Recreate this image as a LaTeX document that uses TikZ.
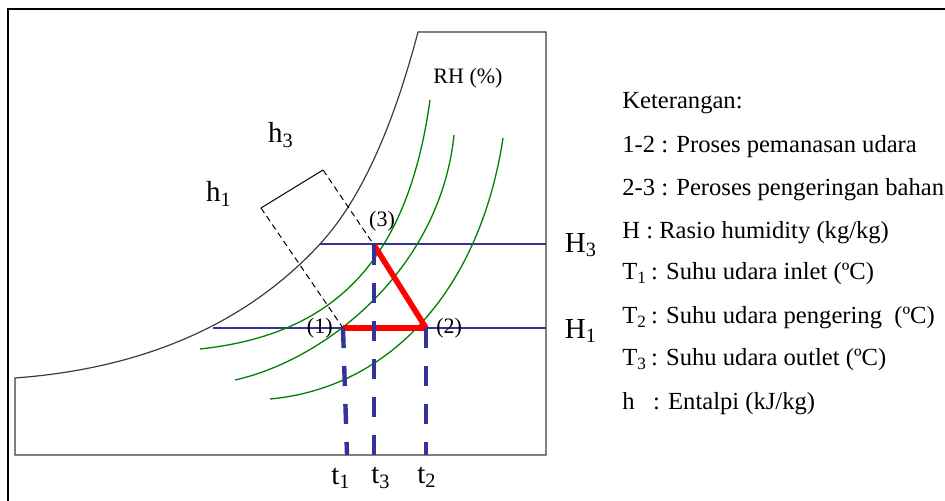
\documentclass[tikz,border=0pt]{standalone}
\usepackage{fontspec}
\setmainfont{Liberation Serif}
\usetikzlibrary{positioning}
\definecolor{chartgray}{RGB}{60,60,60}
\definecolor{hblue}{RGB}{51,51,153}
\definecolor{rhgreen}{RGB}{0,128,0}
\definecolor{procred}{RGB}{255,0,0}

\begin{document}
\begin{tikzpicture}[x=0.5pt, y=-0.5pt,
  lbl/.style={inner sep=0pt, font=\fontsize{14.5}{17}\selectfont},
  ptlbl/.style={inner sep=0pt, font=\fontsize{11}{13}\selectfont},
  legend/.style={anchor=west, inner sep=0pt, font=\fontsize{12.3}{15}\selectfont},
  frame/.style={black, line width=1.2pt},
  chart/.style={chartgray, line width=0.6pt},
  hline/.style={hblue, line width=0.8pt},
  tline/.style={hblue, line width=2.2pt, dash pattern=on 10pt off 9pt},
  rhcurve/.style={rhgreen, line width=0.65pt},
  process/.style={procred, line width=2.8pt},
  enth/.style={black, line width=0.5pt}
]
\useasboundingbox (0,0) rectangle (945,501);
\clip (0,0) rectangle (945,501);
% outer frame (cut by the page)
\draw[frame] (8,560) |- (1000,9);
% chart outline with saturation curve
\draw[chart] (15,455) -- (15,378) .. controls (150,368) and (250,320) .. (320,244)
  .. controls (370,190) and (400,100) .. (418,32) -- (546,32) -- (546,455) -- cycle;
% state points
\coordinate (p1) at (343,328);
\coordinate (p2) at (426,328);
\coordinate (p3) at (374,245);
\coordinate (H1w) at (213,328);
\coordinate (H1e) at (546,328);
\coordinate (H3w) at (320,244);
\coordinate (H3e) at (546,244);
\coordinate (t1b) at (347,455);
\coordinate (t2b) at (426,455);
\coordinate (t3b) at (374,455);
\coordinate (e1) at (261,208);
\coordinate (e3) at (323,170);
% humidity ratio lines
\draw[hline] (H1w) -- (H1e);
\draw[hline] (H3w) -- (H3e);
% RH curves
\draw[rhcurve] (200,349) .. controls (330,335) and (407,266) .. (430,100);
\draw[rhcurve] (235,380) .. controls (325,360) and (440,270) .. (454,135);
\draw[rhcurve] (270,399) .. controls (390,388) and (480,290) .. (503,138);
% enthalpy lines
\draw[enth] (e1) -- (e3);
\draw[enth, dash pattern=on 3pt off 2pt] (e3) -- (p3);
\draw[enth, dash pattern=on 3pt off 2pt] (e1) -- (p1);
% process 1-2-3
\draw[process] (p1) -- (p2);
\draw[process] (p2) -- (p3);
% temperature drop lines
\draw[tline] (p1) -- (t1b);
\draw[tline] (p3) -- (t3b);
\draw[tline] (p2) -- (t2b);
% labels
\node[ptlbl, left=5pt of p1] (n1) {(1)};
\node[ptlbl, right=5pt of p2] (n2) {(2)};
\node[ptlbl] (n3) at (382,221) {(3)};
\node[lbl] (t1) at (341,478) {t\textsubscript{1}};
\node[lbl] (t3) at (381,478) {t\textsubscript{3}};
\node[lbl] (t2) at (427,477) {t\textsubscript{2}};
\node[lbl] (lh3) at (281,135) {h\textsubscript{3}};
\node[lbl] (lh1) at (219,194) {h\textsubscript{1}};
\node[lbl] (lH3) at (581,245) {H\textsubscript{3}};
\node[lbl] (lH1) at (581,331) {H\textsubscript{1}};
\node[inner sep=0pt, font=\fontsize{11}{13}\selectfont] (rh) at (468,78) {RH (\%)};
% legend
\node[legend] (ket) at (622,103) {Keterangan:};
\node[legend] (l12) at (622,147) {1-2 : Proses pemanasan udara};
\node[legend] (l23) at (622,190) {2-3 : Peroses pengeringan bahan};
\node[legend] (lH) at (622,233) {H : Rasio humidity (kg/kg)};
\node[legend] (lT1) at (622,274) {T\textsubscript{1}\,: Suhu udara inlet (ºC)};
\node[legend] (lT2) at (622,318) {T\textsubscript{2}\,: Suhu udara pengering \ (ºC)};
\node[legend] (lT3) at (622,360) {T\textsubscript{3}\,: Suhu udara outlet (ºC)};
\node[legend] (lhh) at (622,404) {h \ \ : Entalpi (kJ/kg)};
\end{tikzpicture}
\end{document}
